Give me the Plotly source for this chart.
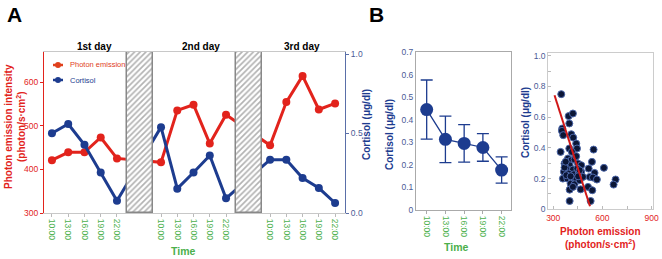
import plotly.graph_objects as go

W, H = 662, 259

# ---------------- data ----------------
times = ["10:00", "13:00", "16:00", "19:00", "22:00"]
days = ["1st day", "2nd day", "3rd day"]

# Panel A: 3 days x 5 time points
photon = [421, 439, 439, 473, 425,
          416, 535, 548, 459, 525,
          455, 554, 614, 537, 551]
cortisol = [0.502, 0.56, 0.429, 0.255, 0.077,
            0.54, 0.153, 0.255, 0.362, 0.092,
            0.335, 0.335, 0.22, 0.157, 0.063]

# Panel B left: mean +- error
mean_cortisol = [0.445, 0.313, 0.295, 0.277, 0.177]
err_cortisol = [0.131, 0.103, 0.083, 0.061, 0.058]

# Panel B right: scatter
scatter_photon = [349, 394, 420, 398, 355, 353, 361, 410, 422, 440, 445, 398, 345, 546, 414,
                  390, 410, 430, 369, 400, 451, 471, 380, 420, 447, 365, 394, 426, 455,
                  359, 386, 414, 440, 406, 430, 461, 380, 471,
                  536, 516, 552, 609, 522, 542, 566, 680, 668, 512, 538, 467, 400, 400, 528,
                  440, 369, 461, 406, 481, 420, 376, 452]
scatter_cortisol = [0.75, 0.607, 0.624, 0.559, 0.526, 0.511, 0.483, 0.489, 0.467, 0.428, 0.396, 0.396, 0.374, 0.389, 0.374,
                    0.331, 0.32, 0.324, 0.298, 0.287, 0.298, 0.287, 0.265, 0.259, 0.265, 0.244, 0.233, 0.228, 0.233,
                    0.2, 0.2, 0.194, 0.2, 0.167, 0.163, 0.189, 0.222, 0.244,
                    0.309, 0.265, 0.237, 0.27, 0.211, 0.207, 0.194, 0.194, 0.161, 0.146, 0.124, 0.13, 0.128, 0.054, 0.054,
                    0.346, 0.272, 0.254, 0.215, 0.211, 0.146, 0.31, 0.215]
fit_photon = [308, 524]
fit_cortisol = [0.743, 0.02]

# ---------------- style ----------------
FONT = "Liberation Sans, Arial, sans-serif"
RED = "#e2231c"
BLUE = "#1d3c8f"
TBLUE = "#4a5a96"
GREEN = "#4cb04c"

def px(x):
    return x / W

def py(y):
    return 1 - y / H

day_step = 6.71
xpos = [d * day_step + i for d in range(len(days)) for i in range(len(times))]
xticktext = times * len(days)
night_centers = [((d * day_step + len(times) - 1) + (d + 1) * day_step) / 2 + 0.08
                 for d in range(len(days) - 1)]

fig = go.Figure()

# Panel A
fig.add_trace(go.Scatter(x=xpos, y=photon, mode="lines+markers",
                         line=dict(color=RED, width=3), marker=dict(color=RED, size=8),
                         xaxis="x", yaxis="y", showlegend=False))
fig.add_trace(go.Scatter(x=xpos, y=cortisol, mode="lines+markers",
                         line=dict(color=BLUE, width=3), marker=dict(color=BLUE, size=8),
                         xaxis="x", yaxis="y2", showlegend=False))
fig.add_trace(go.Bar(x=night_centers, y=[1] * len(night_centers), width=1.6,
                     marker=dict(color="white", line=dict(color="#888888", width=1.5),
                                 pattern=dict(shape="/", fgcolor="#666666", bgcolor="white",
                                              size=4, solidity=0.42)),
                     xaxis="x", yaxis="y3", showlegend=False))

# Panel B left
fig.add_trace(go.Scatter(x=times, y=mean_cortisol, mode="lines+markers",
                         line=dict(color=BLUE, width=1.3),
                         marker=dict(color=BLUE, size=13),
                         error_y=dict(type="data", array=err_cortisol, color=BLUE,
                                      thickness=1.3, width=6),
                         xaxis="x4", yaxis="y4", showlegend=False))

# Panel B right
fig.add_trace(go.Scatter(x=scatter_photon, y=scatter_cortisol, mode="markers",
                         marker=dict(color="#0b1636", size=7,
                                     line=dict(color="#4d68aa", width=1)),
                         xaxis="x5", yaxis="y5", showlegend=False))
fig.add_trace(go.Scatter(x=fit_photon, y=fit_cortisol, mode="lines",
                         line=dict(color="#d01818", width=2),
                         xaxis="x5", yaxis="y5", showlegend=False))

fig.update_layout(
    width=W, height=H, margin=dict(l=0, r=0, t=0, b=0, autoexpand=False),
    paper_bgcolor="white", plot_bgcolor="white",
    font=dict(family=FONT),
    xaxis=dict(domain=[px(44), px(345)], range=[-0.49, 18.03], automargin=False,
               tickvals=xpos, ticktext=xticktext, tickangle=90,
               tickfont=dict(family=FONT, size=8.5, color=GREEN),
               showline=True, linecolor="#c8c8c8", linewidth=1, mirror=True,
               ticks="outside", ticklen=3, tickcolor="#bbbbbb",
               showgrid=False, zeroline=False),
    yaxis=dict(domain=[py(213), py(52)], range=[300, 668.7], automargin=False,
               tickvals=[300, 400, 500, 600],
               tickfont=dict(family=FONT, size=8.5, color=RED),
               showline=True, linecolor=RED, linewidth=1.2,
               ticks="outside", ticklen=3, tickcolor=RED,
               showgrid=False, zeroline=False),
    yaxis2=dict(overlaying="y", side="right", range=[0, 1.0126], automargin=False,
                tickvals=[0, 0.5, 1.0], ticktext=["0.0", "0.5", "1.0"],
                tickfont=dict(family=FONT, size=8.5, color=TBLUE),
                showline=True, linecolor="#5a6fa8", linewidth=1.2,
                ticks="outside", ticklen=3, tickcolor="#5a6fa8",
                showgrid=False, zeroline=False),
    yaxis3=dict(overlaying="y", range=[0, 1], visible=False, automargin=False),
    xaxis4=dict(domain=[px(416), px(511)], range=[-0.57, 4.5], anchor="y4", automargin=False,
                type="category", tickangle=90,
                tickfont=dict(family=FONT, size=8.5, color=GREEN),
                showline=True, linecolor="#aaaaaa", mirror=True,
                ticks="outside", ticklen=3, tickcolor="#aaaaaa",
                showgrid=False, zeroline=False),
    yaxis4=dict(domain=[py(210), py(52)], range=[0, 0.7], anchor="x4", automargin=False,
                tickvals=[0, 0.1, 0.2, 0.3, 0.4, 0.5, 0.6, 0.7],
                ticktext=["0", "0.1", "0.2", "0.3", "0.4", "0.5", "0.6", "0.7"],
                tickfont=dict(family=FONT, size=8.5, color=TBLUE),
                showline=True, linecolor="#aaaaaa", mirror=True,
                ticks="", showgrid=False, zeroline=False),
    xaxis5=dict(domain=[px(548.3), px(653.3)], range=[270, 910], anchor="y5", automargin=False,
                tickvals=[300, 600, 900],
                tickfont=dict(family=FONT, size=8.5, color=RED),
                showline=True, linecolor="#cccccc", mirror=True,
                ticks="inside", ticklen=3, tickcolor="#bbbbbb",
                minor=dict(dtick=150, ticks="inside", ticklen=3, tickcolor="#bbbbbb"),
                showgrid=False, zeroline=False),
    yaxis5=dict(domain=[py(209.3), py(52.7)], range=[0, 1.02], anchor="x5", automargin=False,
                tickvals=[0, 0.2, 0.4, 0.6, 0.8, 1.0],
                ticktext=["0", "0.2", "0.4", "0.6", "0.8", "1.0"],
                tickfont=dict(family=FONT, size=8.5, color=TBLUE),
                showline=True, linecolor="#cccccc", mirror=True,
                ticks="inside", ticklen=3, tickcolor="#bbbbbb",
                minor=dict(dtick=0.1, ticks="inside", ticklen=3, tickcolor="#bbbbbb"),
                showgrid=False, zeroline=False),
)

ann = []

def text(x, y, s, size, color="black", angle=0, xanchor="center"):
    ann.append(dict(x=px(x), y=py(y), xref="paper", yref="paper", text=s,
                    showarrow=False, textangle=angle, xanchor=xanchor, yanchor="middle",
                    font=dict(family=FONT, size=size, color=color),
                    align="center"))

def b(s):
    return "<b>" + s + "</b>"

text(14, 15, b("A"), 21)
text(376, 14, b("B"), 21)

day_centers = [94, 201, 302]
for dname, cx in zip(days, day_centers):
    text(cx, 47, b(dname), 10)

text(15, 127, b("Photon emission intensity<br>(photon/s·cm<sup>2</sup>)"), 10, RED, angle=-90)
text(367, 125, b("Cortisol (μg/dl)"), 10, BLUE, angle=-90)
text(183, 251, b("Time"), 10.5, GREEN)

text(389, 135, b("Cortisol (μg/dl)"), 10, BLUE, angle=-90)
text(456, 247, b("Time"), 10.5, GREEN)

text(526, 123, b("Cortisol (μg/dl)"), 10, BLUE, angle=-90)
text(600, 238, b("Photon emission<br>(photon/s·cm<sup>2</sup>)"), 10, RED)

# legend (manual)
text(68, 65, "Photon emission", 7.5, "#e0401c", xanchor="left")
text(68, 80, "Cortisol", 7.5, BLUE, xanchor="left")

shapes = []
for yy, col in [(65, "#e0401c"), (80, BLUE)]:
    shapes.append(dict(type="line", xref="paper", yref="paper",
                       x0=px(53), x1=px(63), y0=py(yy), y1=py(yy),
                       line=dict(color=col, width=2.5)))
    shapes.append(dict(type="circle", xref="paper", yref="paper",
                       x0=px(55), x1=px(61), y0=py(yy + 3), y1=py(yy - 3),
                       fillcolor=col, line=dict(color=col, width=0)))

fig.update_layout(annotations=ann, shapes=shapes, bargap=0)

fig.write_html("out.html",
               config={"displayModeBar": False},
               post_script="document.body.style.margin='0';document.body.style.overflow='hidden';")
